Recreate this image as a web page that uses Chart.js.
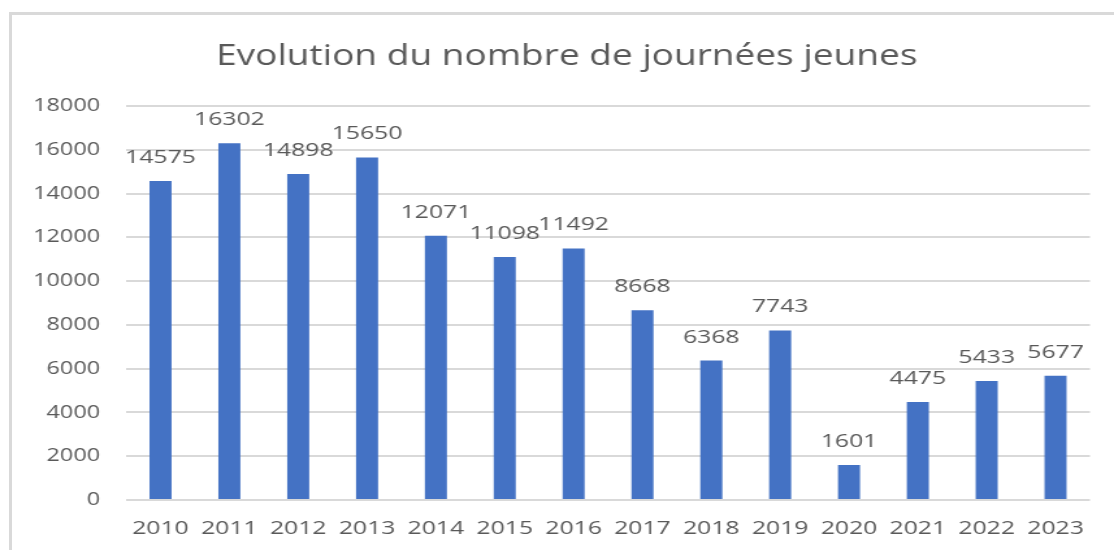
<!DOCTYPE html>
<html>
<head>
<meta charset="utf-8">
<script src="https://cdn.jsdelivr.net/npm/chart.js@4"></script>
<style>
  html, body { margin: 0; padding: 0; background: #fff; overflow: hidden; }
  #frame {
    position: absolute; left: 9px; top: 12px; width: 1120px; height: 560px;
    border-left: 3px solid #d9d9d9; border-top: 3px solid #d9d9d9;
  }
  /* the source picture is stretched sideways, so the chart is too */
  #wrap {
    position: absolute; left: 0; top: 0; width: 857px; height: 550px;
    transform: scaleX(1.2999); transform-origin: 0 0;
  }
</style>
</head>
<body>
<div id="frame"></div>
<div id="wrap"><canvas id="chart"></canvas></div>
<script>
// données
const annees = ['2010', '2011', '2012', '2013', '2014', '2015', '2016',
                '2017', '2018', '2019', '2020', '2021', '2022', '2023'];
const journees = [14575, 16302, 14898, 15650, 12071, 11098, 11492,
                  8668, 6368, 7743, 1601, 4475, 5433, 5677];
const titre = 'Evolution du nombre de journées jeunes';

const gris = '#595959';
const police = '"Open Sans", "DejaVu Sans", sans-serif';

// étiquettes de valeur au-dessus des barres + titre centré sur tout le cadre
const etiquettes = {
  id: 'etiquettes',
  afterDatasetsDraw(chart) {
    const ctx = chart.ctx;
    const meta = chart.getDatasetMeta(0);
    ctx.save();
    ctx.font = '19px ' + police;
    ctx.fillStyle = gris;
    ctx.textAlign = 'center';
    ctx.textBaseline = 'middle';
    meta.data.forEach((bar, i) => {
      ctx.fillText(String(journees[i]), bar.x, bar.y - 23.5);
    });
    ctx.font = '28.5px ' + police;
    ctx.fillText(titre, 436, 57);
    ctx.restore();
  }
};

const ctx = document.getElementById('chart').getContext('2d');

new Chart(ctx, {
  type: 'bar',
  data: {
    labels: annees,
    datasets: [{
      label: 'Journées jeunes',
      data: journees,
      backgroundColor: '#4472C4',
      barPercentage: 0.32,
      categoryPercentage: 1
    }]
  },
  plugins: [etiquettes],
  options: {
    responsive: true,
    maintainAspectRatio: false,
    animation: false,
    layout: { padding: { left: 10, right: 18.5, top: 106, bottom: 0 } },
    plugins: {
      legend: { display: false },
      tooltip: { enabled: false },
      title: { display: false }
    },
    scales: {
      x: {
        grid: { display: false, drawTicks: false },
        border: { display: false },
        ticks: { color: gris, font: { family: police, size: 19 }, padding: 17, maxRotation: 0 },
        afterFit(scale) { scale.height = 50; }
      },
      y: {
        min: 0,
        max: 18000,
        ticks: {
          stepSize: 2000,
          color: gris,
          font: { family: police, size: 18 },
          padding: 20,
          callback: (v) => String(v)
        },
        grid: { color: '#d9d9d9', lineWidth: 2, drawTicks: false },
        border: { display: false },
        afterFit(scale) { scale.width = 87; }
      }
    }
  }
});
</script>
</body>
</html>
